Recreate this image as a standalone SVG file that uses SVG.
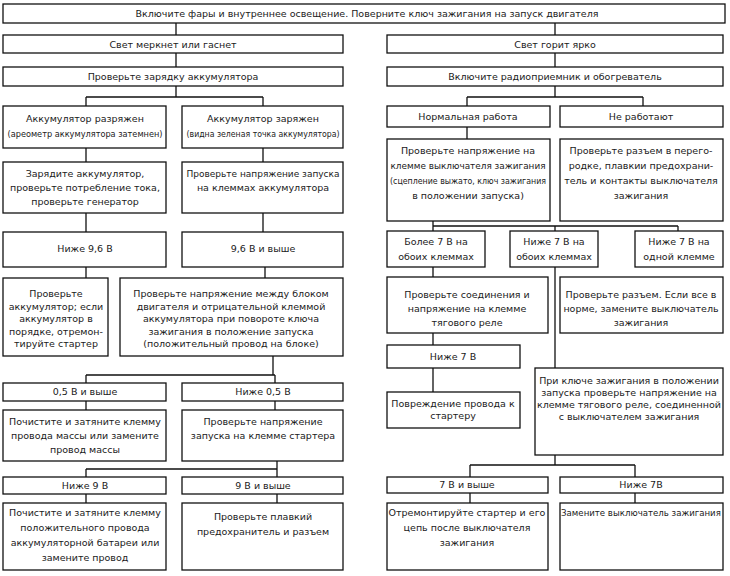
<svg xmlns="http://www.w3.org/2000/svg" width="730" height="576" viewBox="0 0 730 576">
<style>
.b{fill:#fff;stroke:#111;stroke-width:1.3}
.c{fill:none;stroke:#111;stroke-width:1.3}
text{font-family:"DejaVu Sans","Liberation Sans",sans-serif;font-size:9.5px;fill:#1a1a1a;text-anchor:middle}
.s{font-size:8.6px}
</style>
<rect width="730" height="576" fill="#fff"/>
<g id="connectors">
<path class="c" d="M176 23V35M555 23V35M176 53V67M555 53V67M176 86V97M86 97H263M86 97V106M263 97V106M555 86V97M467 97H643M467 97V106M643 97V106M86 148V162M263 148V162M467 127V139M86 213V232M263 213V232M433 221V226M433 226H678M433 226V231M555 226V231M678 226V231M86 267V278M265 267V278M433 267V277M555 267V368M433 333V345M433 368V392M273 356V375M86 375H275M86 375V383M275 375V383M86 401V410M275 401V410M277 461V469M86 469H277M86 469V477M277 469V477M86 494V503M277 494V503M555 455V465M470 465H635M470 465V477M635 465V477M470 493V503M635 493V503"/>
</g>
<g id="n1"><rect class="b" x="3" y="4" width="722" height="19"/><text x="367" y="17">Включите фары и внутреннее освещение. Поверните ключ зажигания на запуск двигателя</text></g>
<g id="n2"><rect class="b" x="3" y="35" width="340" height="18"/><text x="173" y="48">Свет меркнет или гаснет</text></g>
<g id="n3"><rect class="b" x="387" y="35" width="336" height="18"/><text x="555" y="48">Свет горит ярко</text></g>
<g id="n4"><rect class="b" x="3" y="67" width="340" height="19"/><text x="173" y="80">Проверьте зарядку аккумулятора</text></g>
<g id="n5"><rect class="b" x="387" y="67" width="336" height="19"/><text x="555" y="80">Включите радиоприемник и обогреватель</text></g>
<g id="n6"><rect class="b" x="3" y="106" width="163" height="42"/><text x="85" y="122">Аккумулятор разряжен</text><text x="85" y="137" textLength="155" lengthAdjust="spacingAndGlyphs">(ареометр аккумулятора затемнен)</text></g>
<g id="n7"><rect class="b" x="182" y="106" width="161" height="42"/><text x="263" y="122">Аккумулятор заряжен</text><text x="263" y="137" textLength="153" lengthAdjust="spacingAndGlyphs">(видна зеленая точка аккумулятора)</text></g>
<g id="n8"><rect class="b" x="387" y="106" width="163" height="21"/><text x="468" y="120">Нормальная работа</text></g>
<g id="n9"><rect class="b" x="560" y="106" width="163" height="21"/><text x="641" y="120">Не работают</text></g>
<g id="n10"><rect class="b" x="3" y="162" width="163" height="51"/><text x="85" y="177">Зарядите аккумулятор,</text><text x="85" y="191">проверьте потребление тока,</text><text x="85" y="205">проверьте генератор</text></g>
<g id="n11"><rect class="b" x="182" y="162" width="161" height="51"/><text x="263" y="177" textLength="153" lengthAdjust="spacingAndGlyphs">Проверьте напряжение запуска</text><text x="263" y="191">на клеммах аккумулятора</text></g>
<g id="n12"><rect class="b" x="387" y="139" width="163" height="82"/><text x="468" y="154">Проверьте напряжение на</text><text x="468" y="169" textLength="155" lengthAdjust="spacingAndGlyphs">клемме выключателя зажигания</text><text x="468" y="184" textLength="156" lengthAdjust="spacingAndGlyphs">(сцепление выжато, ключ зажигания</text><text x="468" y="199">в положении запуска)</text></g>
<g id="n13"><rect class="b" x="560" y="139" width="163" height="82"/><text x="641" y="154">Проверьте разъем в перего-</text><text x="641" y="169">родке, плавкии предохрани-</text><text x="641" y="184">тель и контакты выключателя</text><text x="641" y="199">зажигания</text></g>
<g id="n14"><rect class="b" x="3" y="232" width="163" height="35"/><text x="85" y="252">Ниже 9,6 В</text></g>
<g id="n15"><rect class="b" x="182" y="232" width="161" height="35"/><text x="263" y="252">9,6 В и выше</text></g>
<g id="n16"><rect class="b" x="387" y="231" width="98" height="36"/><text x="436" y="245">Более 7 В на</text><text x="436" y="260">обоих клеммах</text></g>
<g id="n17"><rect class="b" x="510" y="231" width="88" height="36"/><text x="554" y="245">Ниже 7 В на</text><text x="554" y="260">обоих клеммах</text></g>
<g id="n18"><rect class="b" x="635" y="231" width="88" height="36"/><text x="679" y="245">Ниже 7 В на</text><text x="679" y="260">одной клемме</text></g>
<g id="n19"><rect class="b" x="3" y="278" width="105" height="78"/><text x="56" y="297">Проверьте</text><text x="56" y="310">аккумулятор; если</text><text x="56" y="322">аккумулятор в</text><text x="56" y="335">порядке, отремон-</text><text x="56" y="347">тируйте стартер</text></g>
<g id="n20"><rect class="b" x="120" y="278" width="223" height="78"/><text x="231" y="297">Проверьте напряжение между блоком</text><text x="231" y="310">двигателя и отрицательной клеммой</text><text x="231" y="322">аккумулятора при повороте ключа</text><text x="231" y="335">зажигания в положение запуска</text><text x="231" y="347">(положительный провод на блоке)</text></g>
<g id="n21"><rect class="b" x="387" y="277" width="161" height="56"/><text x="467" y="298">Проверьте соединения и</text><text x="467" y="312">напряжение на клемме</text><text x="467" y="326">тягового реле</text></g>
<g id="n22"><rect class="b" x="560" y="277" width="163" height="56"/><text x="641" y="298">Проверьте разъем. Если все в</text><text x="641" y="312">норме, замените выключатель</text><text x="641" y="326">зажигания</text></g>
<g id="n23"><rect class="b" x="387" y="345" width="133" height="23"/><text x="453" y="360">Ниже 7 В</text></g>
<g id="n24"><rect class="b" x="387" y="392" width="133" height="36"/><text x="453" y="407">Повреждение провода  к</text><text x="453" y="419">стартеру</text></g>
<g id="n25"><rect class="b" x="535" y="368" width="188" height="87"/><text x="629" y="384">При ключе зажигания в положении</text><text x="629" y="396">запуска проверьте напряжение на</text><text x="629" y="408">клемме тягового реле, соединенной</text><text x="629" y="420">с выключателем зажигания</text></g>
<g id="n26"><rect class="b" x="3" y="383" width="163" height="18"/><text x="85" y="395">0,5 В и выше</text></g>
<g id="n27"><rect class="b" x="182" y="383" width="161" height="18"/><text x="263" y="395">Ниже 0,5 В</text></g>
<g id="n28"><rect class="b" x="3" y="410" width="163" height="51"/><text x="85" y="425">Почистите и затяните клемму</text><text x="85" y="439">провода массы или замените</text><text x="85" y="453">провод массы</text></g>
<g id="n29"><rect class="b" x="182" y="410" width="161" height="51"/><text x="263" y="425">Проверьте напряжение</text><text x="263" y="439">запуска на клемме стартера</text></g>
<g id="n30"><rect class="b" x="3" y="477" width="163" height="17"/><text x="85" y="489">Ниже 9 В</text></g>
<g id="n31"><rect class="b" x="182" y="477" width="161" height="17"/><text x="263" y="489">9 В и выше</text></g>
<g id="n32"><rect class="b" x="387" y="477" width="161" height="16"/><text x="467" y="488">7 В и выше</text></g>
<g id="n33"><rect class="b" x="560" y="477" width="163" height="16"/><text x="641" y="488">Ниже 7В</text></g>
<g id="n34"><rect class="b" x="3" y="503" width="163" height="67"/><text x="85" y="516">Почистите и затяните клемму</text><text x="85" y="531">положительного провода</text><text x="85" y="546">аккумуляторной батареи или</text><text x="85" y="561">замените провод</text></g>
<g id="n35"><rect class="b" x="182" y="503" width="161" height="67"/><text x="263" y="520">Проверьте плавкий</text><text x="263" y="535">предохранитель и разъем</text></g>
<g id="n36"><rect class="b" x="387" y="503" width="161" height="67"/><text x="467" y="516">Отремонтируйте стартер и его</text><text x="467" y="531">цепь после выключателя</text><text x="467" y="546">зажигания</text></g>
<g id="n37"><rect class="b" x="560" y="503" width="163" height="67"/><text class="s" x="641" y="516">Замените выключатель зажигания</text></g>
</svg>
